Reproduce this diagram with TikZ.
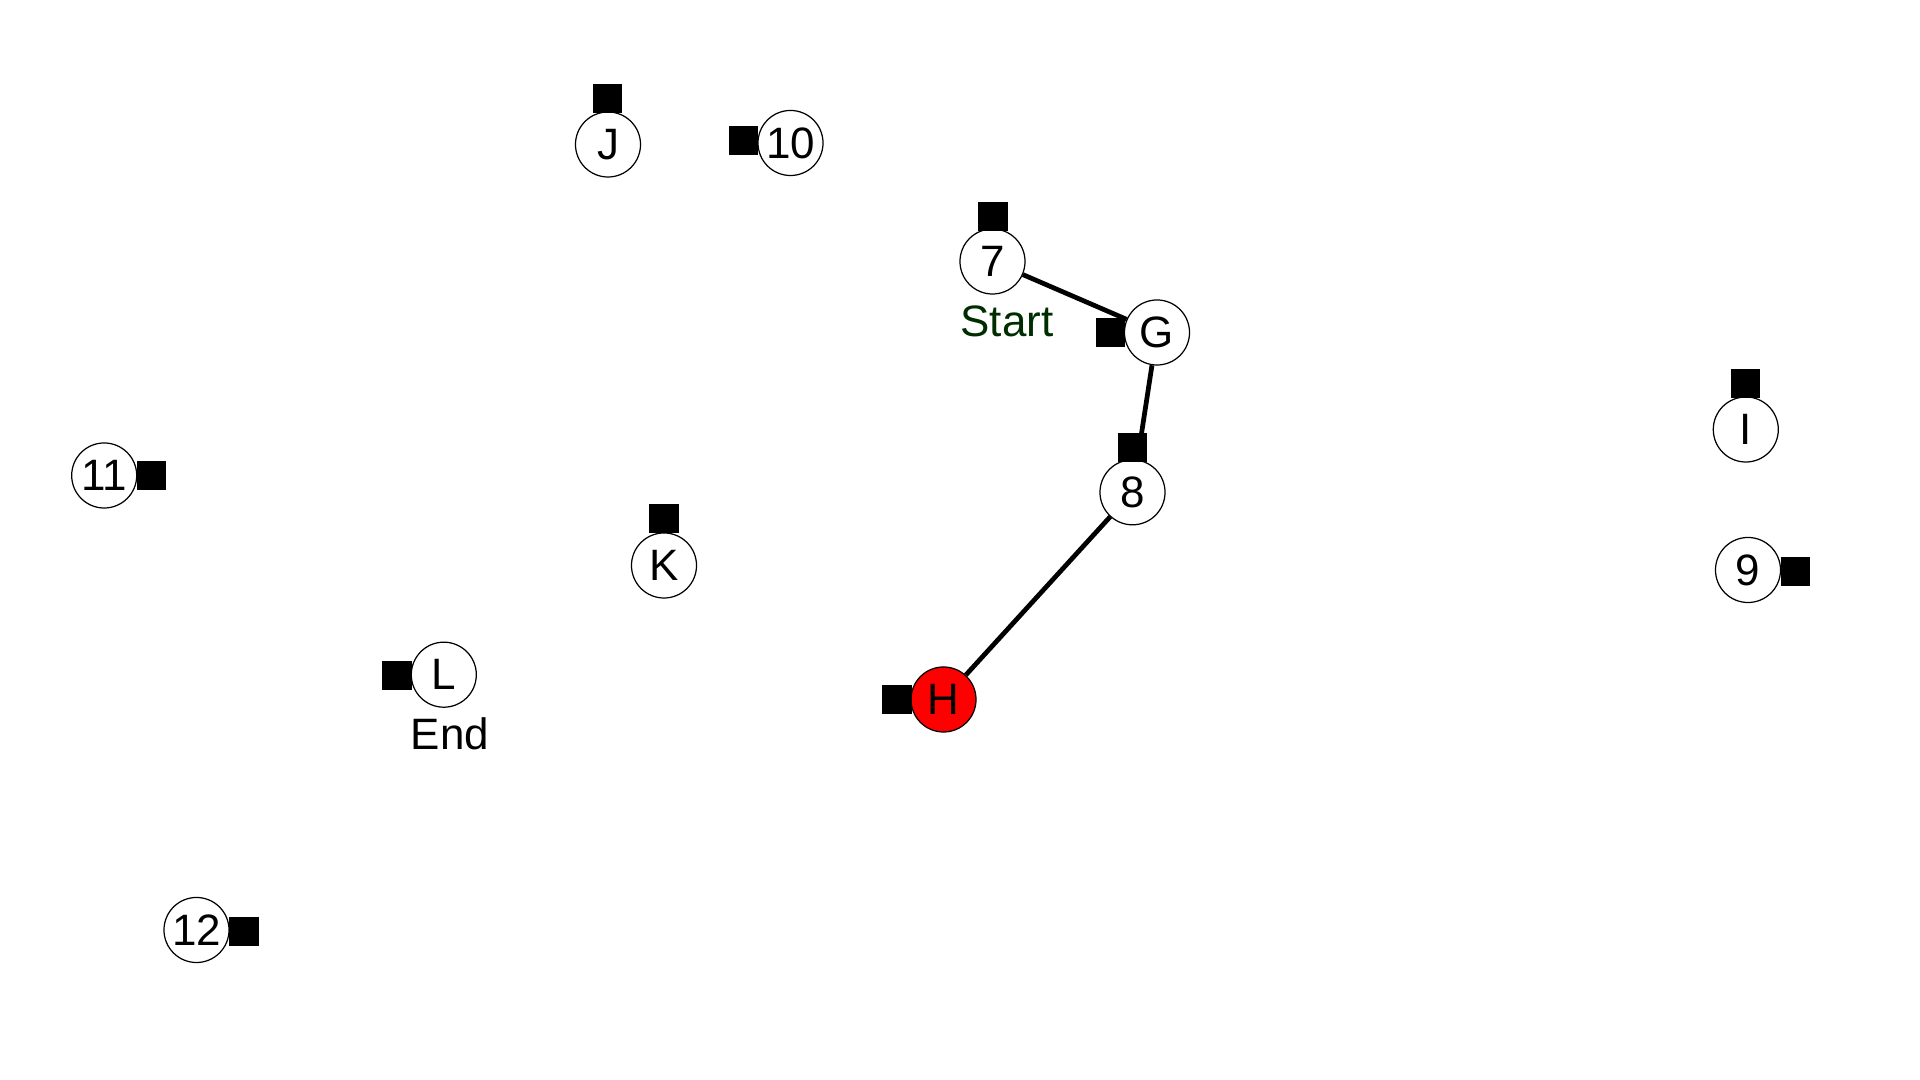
\documentclass[tikz,border=0pt]{standalone}
\usepackage{fontspec}
\setmainfont{Liberation Sans}
\definecolor{startgreen}{RGB}{0,45,0}
\definecolor{hred}{RGB}{255,0,0}
\begin{document}
\begin{tikzpicture}[x=0.01cm,y=-0.01cm,
  vert/.style={circle,draw=black,line width=0.35pt,fill=white,minimum size=0.65cm,inner sep=0pt,font=\fontsize{12.5}{15}\selectfont},
  marker/.style={rectangle,fill=black,minimum size=0.29cm,inner sep=0pt},
  lbl/.style={anchor=base,inner sep=0pt,font=\fontsize{12.5}{15}\selectfont},
  edge/.style={line width=1.35pt,black}]
\useasboundingbox[fill=white] (0,0) rectangle (1920,1080);
% vertices
\node[vert] (J) at (608,144.5) {J};
\node[vert] (n10) at (790.5,143) {10};
\node[vert] (n7) at (992.5,261.5) {7};
\node[vert] (G) at (1157,332.5) {G};
\node[vert] (n8) at (1132.5,492.3) {8};
\node[vert] (I) at (1745.8,429.5) {I};
\node[vert] (n9) at (1748,570) {9};
\node[vert] (n11) at (104.2,475.5) {11};
\node[vert] (K) at (664,565.5) {K};
\node[vert] (L) at (443.8,674.7) {L};
\node[vert,fill=hred] (H) at (943.5,699.5) {H};
\node[vert] (n12) at (196.5,930) {12};
% connectors
\draw[edge] (n7) -- (G);
\draw[edge] (G) -- (n8);
\draw[edge] (n8) -- (H);
% markers
\node[marker] (sJ) at (607.5,98.5) {};
\node[marker] (s10) at (743.5,141) {};
\node[marker] (s7) at (993,216.5) {};
\node[marker] (sG) at (1110.5,332.5) {};
\node[marker] (s8) at (1132.5,447.5) {};
\node[marker] (sI) at (1745.5,383.5) {};
\node[marker] (s9) at (1795.5,571.5) {};
\node[marker] (s11) at (151.5,476) {};
\node[marker] (sK) at (664,519) {};
\node[marker] (sL) at (397,675.3) {};
\node[marker] (sH) at (897,700) {};
\node[marker] (s12) at (244,931.5) {};
% labels
\node[lbl,text=startgreen] (start) at (1007,337) {Start};
\node[lbl] (end) at (450,750) {End};
\end{tikzpicture}
\end{document}
